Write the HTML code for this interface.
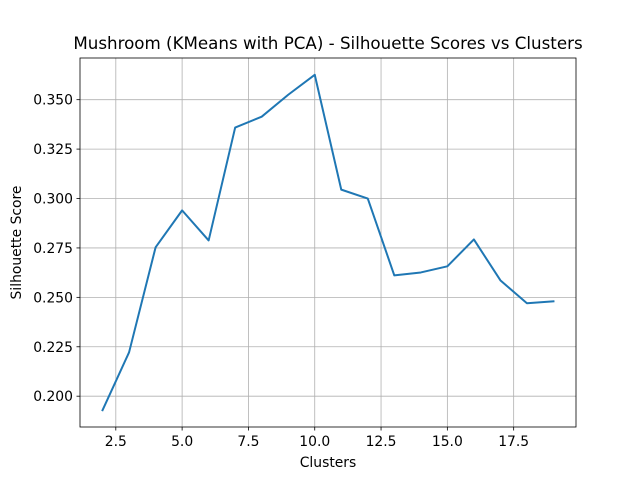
<!DOCTYPE html>
<html><head><meta charset="utf-8"><style>
body{margin:0;background:#fff;}
svg text{font-family:"DejaVu Sans","Liberation Sans",sans-serif;fill:#000;}
</style></head><body>
<svg id="chart" width="640" height="480"></svg>
<script>
const clusters=[2,3,4,5,6,7,8,9,10,11,12,13,14,15,16,17,18,19];
const scores=[0.1929,0.2222,0.2753,0.294,0.2788,0.3359,0.3414,0.3525,0.3626,0.3045,0.300,0.2611,0.2626,0.2657,0.2793,0.2586,0.247,0.248];
const xTicks=[2.5,5.0,7.5,10.0,12.5,15.0,17.5];
const yTicks=[0.200,0.225,0.250,0.275,0.300,0.325,0.350];
const L=80,R=576,T=58,B=427;
const xmin=Math.min(...clusters),xmax=Math.max(...clusters),xm=(xmax-xmin)*0.05;
const ymin=Math.min(...scores),ymax=Math.max(...scores),ym=(ymax-ymin)*0.05;
const X=v=>L+(v-(xmin-xm))/((xmax+xm)-(xmin-xm))*(R-L);
const Y=v=>B-(v-(ymin-ym))/((ymax+ym)-(ymin-ym))*(B-T);
const svg=document.getElementById('chart');
const NS='http://www.w3.org/2000/svg';
function mk(t,a,p){const e=document.createElementNS(NS,t);for(const k in a)e.setAttribute(k,a[k]);(p||svg).appendChild(e);return e;}
xTicks.forEach(v=>{const x=X(v);
const g=mk('line',{x1:x,x2:x,y1:T,y2:B,stroke:'#b0b0b0','stroke-width':0.8});


mk('line',{x1:x,x2:x,y1:B,y2:B+3.5,stroke:'#000','stroke-width':0.8});
const t=mk('text',{x:x,y:B+19,'text-anchor':'middle','font-size':13.9});t.textContent=v.toFixed(1);

});
yTicks.forEach(v=>{const y=Y(v);
const g=mk('line',{x1:L,x2:R,y1:y,y2:y,stroke:'#b0b0b0','stroke-width':0.8});


mk('line',{x1:L-3.5,x2:L,y1:y,y2:y,stroke:'#000','stroke-width':0.8});
const t=mk('text',{x:L-7,y:y+5,'text-anchor':'end','font-size':13.9});t.textContent=v.toFixed(3);

});
const pl=mk('polyline',{points:clusters.map((c,i)=>X(c)+','+Y(scores[i])).join(' '),fill:'none',stroke:'#1f77b4','stroke-width':2,'stroke-linejoin':'round','stroke-linecap':'square'});


const fr=mk('rect',{x:L,y:T,width:R-L,height:B-T,fill:'none',stroke:'#000','stroke-width':0.8});


const ti=mk('text',{x:(L+R)/2,y:T-9,'text-anchor':'middle','font-size':16.7});ti.textContent='Mushroom (KMeans with PCA) - Silhouette Scores vs Clusters';


const xl=mk('text',{x:(L+R)/2,y:467,'text-anchor':'middle','font-size':13.9});xl.textContent='Clusters';


const yl=mk('text',{x:0,y:0,'text-anchor':'middle','font-size':13.9,transform:'translate(21,'+((T+B)/2)+') rotate(-90)'});yl.textContent='Silhouette Score';


</script>
</body></html>
